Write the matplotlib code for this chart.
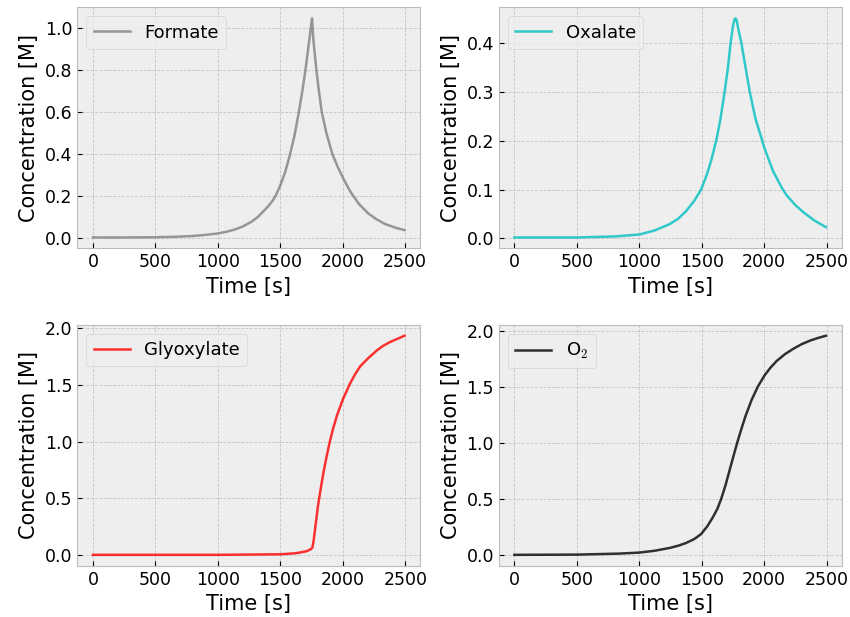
import numpy as np
import matplotlib
matplotlib.use("Agg")
import matplotlib.pyplot as plt

plt.style.use('bmh')

# values
t_formate = [0, 250, 500, 650, 800, 900, 1000, 1070, 1137, 1200, 1270, 1320, 1376,
             1410, 1442, 1470, 1500, 1540, 1577, 1615, 1649, 1677, 1702, 1730,
             1745, 1755, 1765, 1778, 1790, 1810, 1833, 1870, 1918, 1960, 2000,
             2035, 2071, 2130, 2204, 2270, 2336, 2420, 2495]
formate = [0.003, 0.003, 0.004, 0.006, 0.010, 0.015, 0.022, 0.030, 0.041, 0.055,
           0.078, 0.100, 0.134, 0.156, 0.180, 0.210, 0.250, 0.315, 0.395, 0.490,
           0.600, 0.700, 0.800, 0.930, 1.000, 1.047, 0.950, 0.870, 0.800, 0.700,
           0.600, 0.500, 0.400, 0.340, 0.290, 0.250, 0.213, 0.163, 0.118, 0.090,
           0.068, 0.050, 0.038]

t_oxalate = [0, 250, 500, 800, 1000, 1120, 1241, 1310, 1375, 1440, 1495, 1540,
             1576, 1616, 1650, 1683, 1710, 1731, 1750, 1762, 1771, 1780, 1795,
             1817, 1850, 1884, 1930, 1984, 2000, 2070, 2140, 2180, 2250, 2316,
             2400, 2494]
oxalate = [0.002, 0.002, 0.002, 0.004, 0.008, 0.016, 0.029, 0.040, 0.056, 0.077,
           0.100, 0.130, 0.160, 0.200, 0.245, 0.300, 0.350, 0.400, 0.435, 0.448,
           0.450, 0.445, 0.425, 0.400, 0.350, 0.300, 0.245, 0.200, 0.186, 0.138,
           0.104, 0.088, 0.068, 0.053, 0.037, 0.023]

t_glyox = [0, 1000, 1500, 1600, 1644, 1710, 1740, 1755, 1765, 1782, 1800, 1820,
           1843, 1865, 1893, 1920, 1952, 2000, 2060, 2100, 2138, 2200, 2271, 2320,
           2378, 2430, 2492]
glyoxylate = [0.0, 0.0, 0.005, 0.012, 0.018, 0.032, 0.048, 0.062, 0.120, 0.270,
              0.430, 0.570, 0.720, 0.845, 0.990, 1.110, 1.230, 1.375, 1.520, 1.600,
              1.665, 1.735, 1.805, 1.845, 1.880, 1.905, 1.935]

t_o2 = [0, 500, 839, 1000, 1120, 1241, 1310, 1375, 1440, 1495, 1545, 1589, 1625,
        1656, 1690, 1723, 1750, 1785, 1815, 1851, 1900, 1951, 2005, 2050, 2100,
        2165, 2235, 2300, 2370, 2430, 2494]
o2 = [0.004, 0.006, 0.015, 0.024, 0.040, 0.065, 0.085, 0.110, 0.145, 0.190, 0.260,
      0.340, 0.415, 0.505, 0.625, 0.760, 0.870, 1.010, 1.120, 1.245, 1.390, 1.510,
      1.610, 1.675, 1.735, 1.795, 1.845, 1.885, 1.918, 1.940, 1.960]

panels = [
    (t_formate, formate, 'gray', 'Formate'),
    (t_oxalate, oxalate, 'c', 'Oxalate'),
    (t_glyox, glyoxylate, 'r', 'Glyoxylate'),
    (t_o2, o2, 'k', 'O$_2$'),
]

fig, axs = plt.subplots(2, 2, figsize=(8.5, 6.17), dpi=100)
fig.subplots_adjust(left=0.091, right=0.99, top=0.988, bottom=0.083,
                    wspace=0.23, hspace=0.317)
for ax, (t, y, c, lab) in zip(axs.flat, panels):
    ax.plot(t, y, color=c, alpha=0.8, lw=1.8, label=lab)
    ax.set_xlabel('Time [s]', fontsize=15)
    ax.set_ylabel('Concentration [M]', fontsize=15)
    ax.tick_params(labelsize=12.5)
    ax.set_xticks([0, 500, 1000, 1500, 2000, 2500])
    ax.grid(True, ls='--', lw=0.6, color='#c4c4c4')
    ax.legend(loc='upper left', fontsize=13)

fig.savefig('out.png')
